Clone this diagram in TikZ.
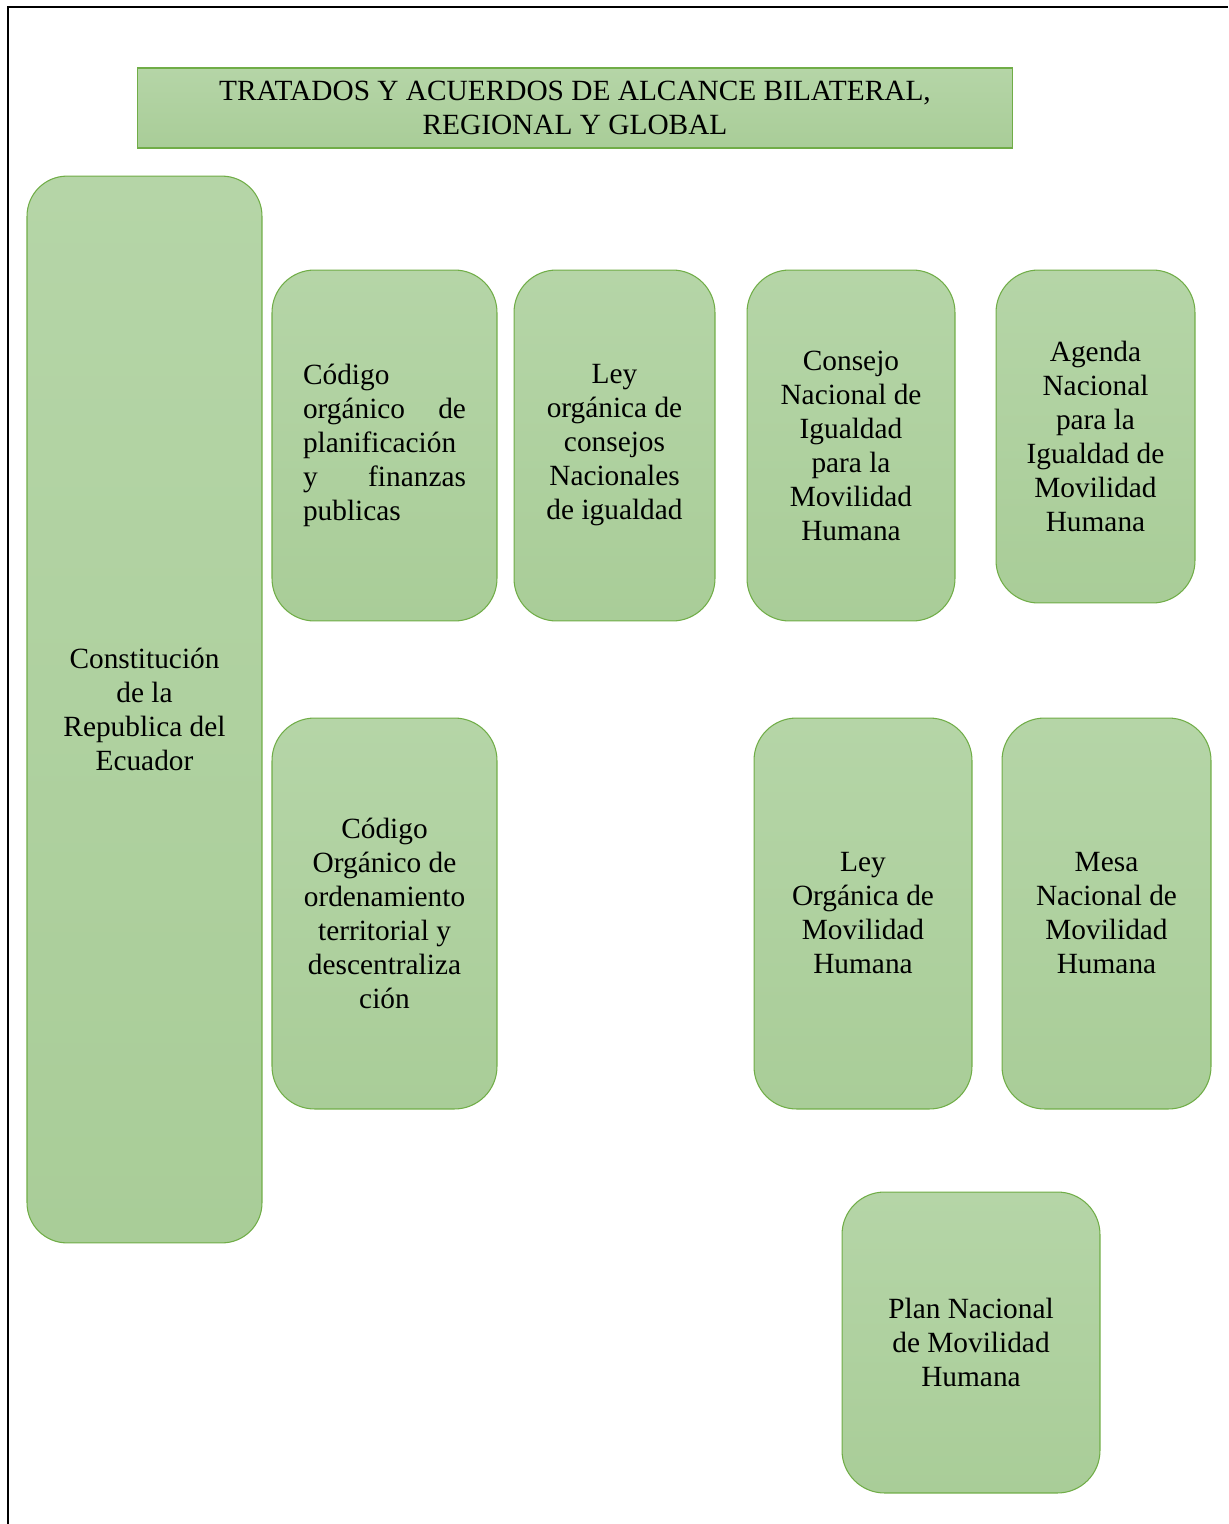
\documentclass[tikz,border=0pt]{standalone}
\usepackage{fontspec}
\setmainfont{Liberation Serif}
\definecolor{verdeclaro}{HTML}{B5D5A7}
\definecolor{verdeoscuro}{HTML}{A9CD98}
\definecolor{verdeborde}{HTML}{70AD47}
\begin{document}
\begin{tikzpicture}[x = .02cm, y = -.02cm,
  caja/.style = {draw = verdeborde, line width = .6pt, top color = verdeclaro,
                 bottom color = verdeoscuro, rounded corners = .85cm,
                 inner sep = 0pt, align = center,
                 font = \fontsize{16.7pt}{19.35pt}\selectfont},
  titulo/.style = {caja, rounded corners = 0pt}]
\useasboundingbox (0, 0) rectangle (1228, 1524);
\draw [line width = 1.1pt] (8, 1524) -- (8, 7) -- (1228, 7);
\draw (575, 108) node[titulo, minimum width = 17.52cm, minimum height = 1.6cm] (tratados)
  {TRATADOS Y ACUERDOS DE ALCANCE BILATERAL,\\REGIONAL Y GLOBAL};
\draw (144.5, 709.5) node[caja, minimum width = 4.7cm, minimum height = 21.34cm,
  rounded corners = .8cm] (constitucion)
  {Constitución\\de la\\Republica del\\Ecuador};
\draw (384.5, 445.5) node[caja, minimum width = 4.5cm, minimum height = 7.02cm,
  text width = 3.26cm, align = left] (planificacion)
  {Código\\orgánico\hfill de\\planificación\\y\hfill finanzas\\publicas};
\draw (614.5, 445.5) node[caja, minimum width = 4.02cm, minimum height = 7.02cm] (consejos)
  {Ley\\orgánica de\\consejos\\Nacionales\\de igualdad};
\draw (851, 445.5) node[caja, minimum width = 4.16cm, minimum height = 7.02cm] (consejo)
  {Consejo\\Nacional de\\Igualdad\\para la\\Movilidad\\Humana};
\draw (1095.5, 436.5) node[caja, minimum width = 3.98cm, minimum height = 6.66cm] (agenda)
  {Agenda\\Nacional\\para la\\Igualdad de\\Movilidad\\Humana};
\draw (384.5, 913.5) node[caja, minimum width = 4.5cm, minimum height = 7.82cm] (ordenamiento)
  {Código\\Orgánico de\\ordenamiento\\territorial y\\descentraliza\\ción};
\draw (863, 913.5) node[caja, minimum width = 4.36cm, minimum height = 7.82cm] (ley)
  {Ley\\Orgánica de\\Movilidad\\Humana};
\draw (1106.5, 913.5) node[caja, minimum width = 4.18cm, minimum height = 7.82cm] (mesa)
  {Mesa\\Nacional de\\Movilidad\\Humana};
\draw (971, 1342.5) node[caja, minimum width = 5.16cm, minimum height = 6.02cm] (plan)
  {Plan Nacional\\de Movilidad\\Humana};
\end{tikzpicture}
\end{document}
